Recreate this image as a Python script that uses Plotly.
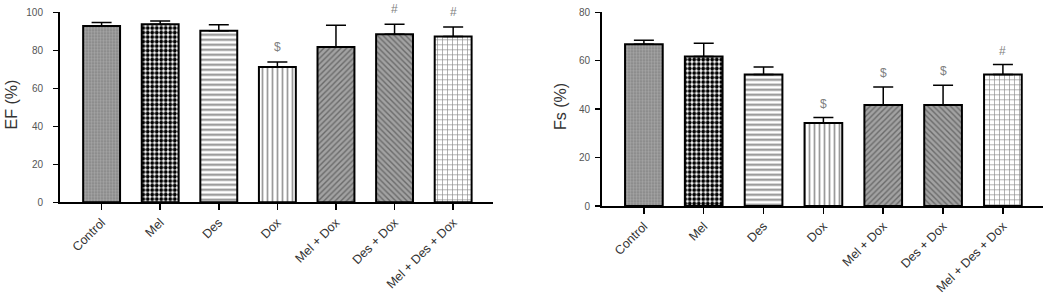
import plotly.graph_objects as go

categories = ["Control", "Mel", "Des", "Dox", "Mel + Dox", "Des + Dox", "Mel + Des + Dox"]

ef_mean = [92.8, 93.7, 90.3, 71.2, 81.7, 88.4, 87.2]
ef_sem = [1.8, 1.7, 3.2, 2.6, 11.5, 5.3, 5.1]
ef_marks = ["", "", "", "$", "", "#", "#"]

fs_mean = [66.8, 61.7, 54.3, 34.3, 41.7, 41.7, 54.3]
fs_sem = [1.7, 5.5, 3.1, 2.2, 7.4, 8.2, 4.1]
fs_marks = ["", "", "", "$", "$", "$", "#"]

ef_ticks = [0, 20, 40, 60, 80, 100]
fs_ticks = [0, 20, 40, 60, 80]

W, H = 1045, 308
FONT = "Liberation Sans, Arial, sans-serif"

pat_shape = [".", ".", "-", "|", "/", "\\", "+"]
pat_bg = ["#858585", "white", "white", "white", "#a2a2a2", "#a2a2a2", "white"]
pat_fg = ["#a5a5a5", "black", "#8c8c8c", "#9a9a9a", "#6a6a6a", "#6a6a6a", "#8c8c8c"]
pat_size = [3, 4.5, 5, 5, 4, 4, 5]
pat_sol = [0.5, 0.6, 0.4, 0.35, 0.35, 0.35, 0.25]


def bar_trace(x, y, err, xa, ya):
    return go.Bar(
        x=x, y=y, xaxis=xa, yaxis=ya, width=0.63,
        marker=dict(
            color="white",
            line=dict(color="black", width=2),
            pattern=dict(shape=pat_shape, bgcolor=pat_bg, fgcolor=pat_fg,
                         size=pat_size, solidity=pat_sol, fillmode="replace"),
        ),
        error_y=dict(type="data", array=err, arrayminus=[0] * len(err), symmetric=False,
                     color="black", thickness=1.5, width=10),
        showlegend=False,
        hoverinfo="skip",
    )


fig = go.Figure()
fig.add_trace(bar_trace(categories, ef_mean, ef_sem, "x", "y"))
fig.add_trace(bar_trace(categories, fs_mean, fs_sem, "x2", "y2"))

annotations = []
for i, m in enumerate(ef_marks):
    if m:
        annotations.append(dict(x=categories[i], y=ef_mean[i] + ef_sem[i], xref="x", yref="y",
                                text=m, showarrow=False, yshift=15,
                                font=dict(size=12, color="#808080", family=FONT)))
for i, m in enumerate(fs_marks):
    if m:
        annotations.append(dict(x=categories[i], y=fs_mean[i] + fs_sem[i], xref="x2", yref="y2",
                                text=m, showarrow=False, yshift=14,
                                font=dict(size=12, color="#808080", family=FONT)))

annotations.append(dict(x=11.5 / W, y=1 - 105 / H, xref="paper", yref="paper", text="EF (%)",
                        textangle=-90, showarrow=False, xanchor="center", yanchor="middle",
                        font=dict(size=16, color="#333", family=FONT)))
annotations.append(dict(x=560 / W, y=1 - 107 / H, xref="paper", yref="paper", text="Fs (%)",
                        textangle=-90, showarrow=False, xanchor="center", yanchor="middle",
                        font=dict(size=16, color="#333", family=FONT)))

xcommon = dict(showline=True, linecolor="black", linewidth=2, ticks="outside", ticklen=6,
               tickwidth=1.5, tickcolor="black", showgrid=False, zeroline=False, automargin=False,
               tickangle=-45, tickfont=dict(size=12.5, color="#333", family=FONT))
ycommon = dict(showline=True, linecolor="black", linewidth=2, ticks="outside", ticklen=5,
               tickwidth=1.5, tickcolor="black", showgrid=False, zeroline=False, automargin=False,
               tickfont=dict(size=10, color="#555", family=FONT))

fig.update_layout(
    width=W, height=H, margin=dict(l=0, r=0, t=0, b=0),
    paper_bgcolor="white", plot_bgcolor="white",
    font=dict(family=FONT),
    hovermode=False,
    xaxis=dict(domain=[60 / W, 493 / W], range=[-0.71, 6.68], anchor="y", **xcommon),
    yaxis=dict(domain=[1 - 202.3 / H, 1 - 12.3 / H], range=[0, 100], tickvals=ef_ticks,
               anchor="x", ticklabelstandoff=8, **ycommon),
    xaxis2=dict(domain=[602 / W, 1043 / W], range=[-0.70, 6.67], anchor="y2", **xcommon),
    yaxis2=dict(domain=[1 - 206 / H, 1 - 12.3 / H], range=[0, 80], tickvals=fs_ticks,
                anchor="x2", ticklabelstandoff=3, **ycommon),
    annotations=annotations,
)

fig.write_html(
    "out.html",
    config={"displayModeBar": False, "staticPlot": True},
    post_script="document.body.style.margin='0';document.body.style.overflow='hidden';",
)
